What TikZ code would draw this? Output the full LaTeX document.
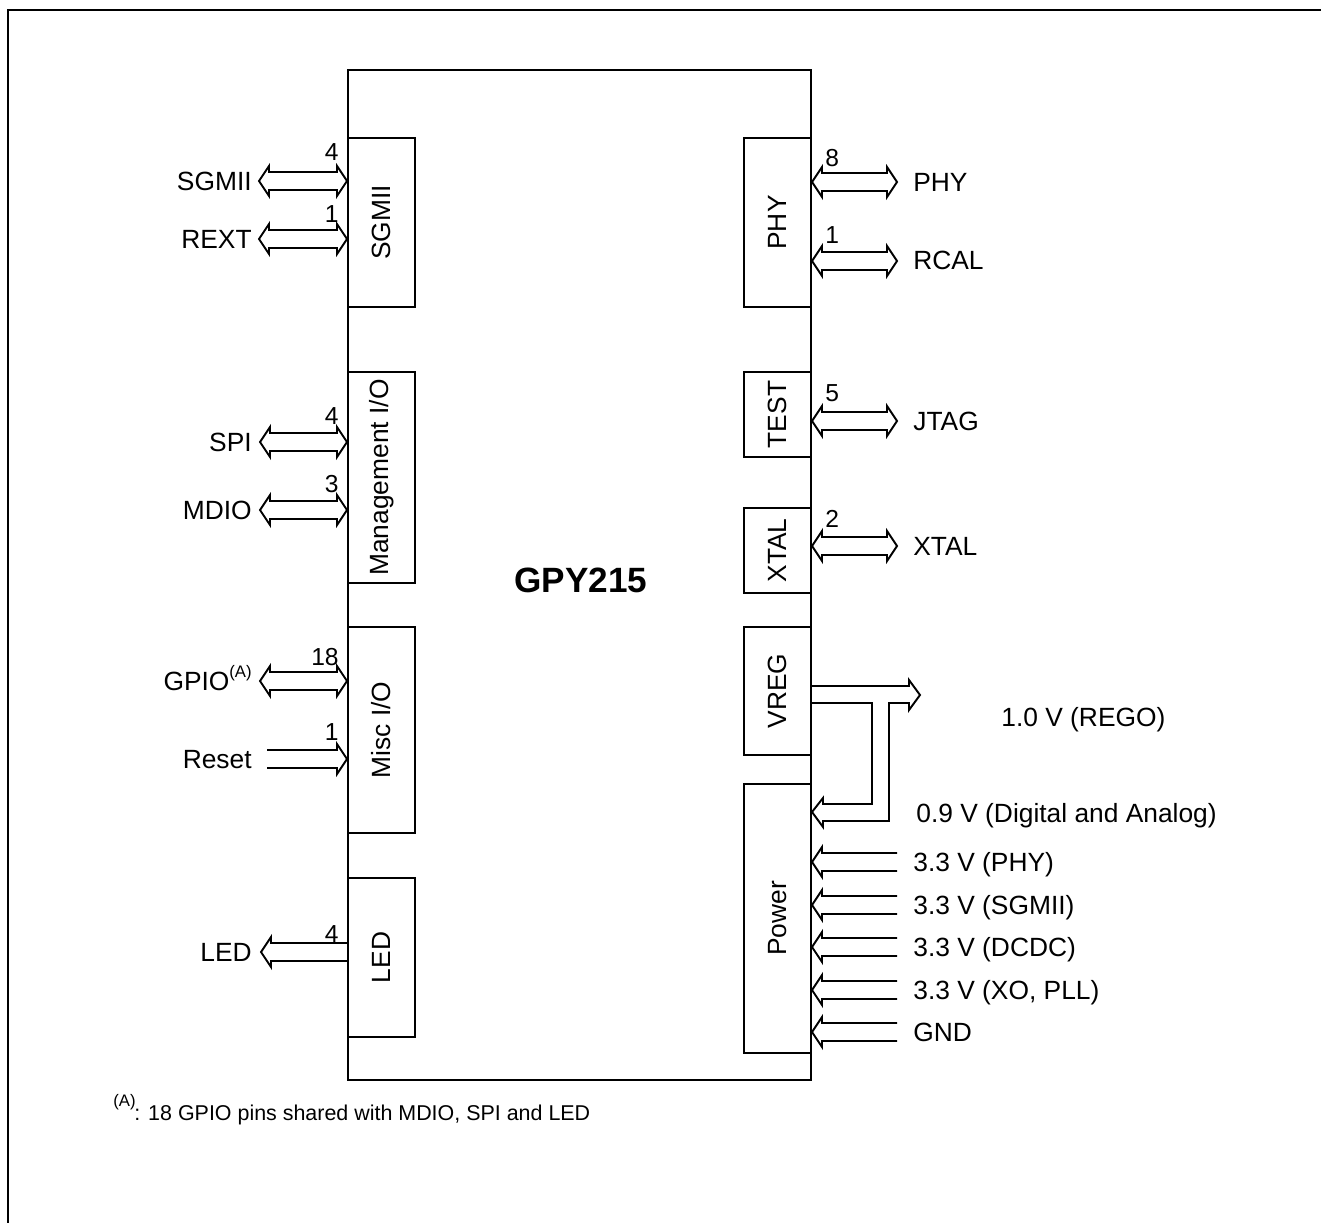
\documentclass[tikz,border=0pt]{standalone}
\usepackage{fontspec}
\setmainfont{Liberation Sans}
\usetikzlibrary{fit}
\newcommand{\ArrBi}[3]{\draw[arr] (#1,#3) -- ({#1+10},{#3-15}) -- ({#1+10},{#3-9}) -- ({#2-10},{#3-9}) -- ({#2-10},{#3-15}) -- (#2,#3) -- ({#2-10},{#3+15}) -- ({#2-10},{#3+9}) -- ({#1+10},{#3+9}) -- ({#1+10},{#3+15}) -- cycle;}
\newcommand{\ArrR}[3]{\draw[arr] (#1,{#3-9}) -- ({#2-10},{#3-9}) -- ({#2-10},{#3-15}) -- (#2,#3) -- ({#2-10},{#3+15}) -- ({#2-10},{#3+9}) -- (#1,{#3+9});}
\newcommand{\ArrL}[3]{\draw[arr] (#2,{#3-9}) -- ({#1+10},{#3-9}) -- ({#1+10},{#3-15}) -- (#1,#3) -- ({#1+10},{#3+15}) -- ({#1+10},{#3+9}) -- (#2,{#3+9});}
\begin{document}
\begin{tikzpicture}[x=0.02cm,y=-0.02cm,
  blk/.style={draw, line width=1.1pt, inner sep=0pt},
  lbl/.style={font=\fontsize{15}{18}\selectfont, inner sep=0pt},
  num/.style={font=\fontsize{14}{17}\selectfont, inner sep=0pt},
  arr/.style={draw, line width=1.1pt, line join=miter, miter limit=10}]
\useasboundingbox (0,0) rectangle (1321,1223);
\draw[line width=1.1pt] (8,1223) -- (8,10) -- (1321,10);
% chip
\node[blk, fit={(348,70) (811,1080)}] (chip) {};
\node[font=\fontsize{20}{24}\selectfont\bfseries, inner sep=0pt] (chipname) at (581,580) {GPY215};
% left blocks
\node[blk, fit={(348,138) (415,307)}] (bSgmii) {};
\node[lbl, rotate=90] at (bSgmii) {SGMII};
\node[blk, fit={(348,372) (415,583)}] (bMgmt) {};
\node[lbl, rotate=90] at (bMgmt) {Management I/O};
\node[blk, fit={(348,627) (415,833)}] (bMisc) {};
\node[lbl, rotate=90] at (bMisc) {Misc I/O};
\node[blk, fit={(348,878) (415,1037)}] (bLed) {};
\node[lbl, rotate=90] at (bLed) {LED};
% right blocks
\node[blk, fit={(744,138) (811,307)}] (bPhy) {};
\node[lbl, rotate=90] at (bPhy) {PHY};
\node[blk, fit={(744,372) (811,457)}] (bTest) {};
\node[lbl, rotate=90] at (bTest) {TEST};
\node[blk, fit={(744,508) (811,593)}] (bXtal) {};
\node[lbl, rotate=90] at (bXtal) {XTAL};
\node[blk, fit={(744,627) (811,755)}] (bVreg) {};
\node[lbl, rotate=90] at (bVreg) {VREG};
\node[blk, fit={(744,784) (811,1053)}] (bPower) {};
\node[lbl, rotate=90] at (bPower) {Power};
% left arrows
\ArrBi{259}{347}{181}
\ArrBi{259}{347}{239}
\ArrBi{260}{347}{442}
\ArrBi{260}{347}{510}
\ArrBi{260}{347}{681}
\ArrR{267}{347}{759}
\ArrL{261}{348}{952}
% left labels
\node[lbl, anchor=base east] (lSgmii) at (252,190.5) {SGMII};
\node[lbl, anchor=base east] (lRext) at (252,248.5) {REXT};
\node[lbl, anchor=base east] (lSpi) at (252,451.5) {SPI};
\node[lbl, anchor=base east] (lMdio) at (252,519.5) {MDIO};
\node[lbl, anchor=base east] (lGpio) at (252,690.5) {GPIO\raisebox{7.5pt}{\fontsize{9.5}{11}\selectfont(A)}};
\node[lbl, anchor=base east] (lReset) at (252,768.5) {Reset};
\node[lbl, anchor=base east] (lLed) at (252,961.5) {LED};
% left numbers
\node[num, anchor=base east] (nSgmii) at (339,161) {4};
\node[num, anchor=base east] (nRext) at (339,222) {1};
\node[num, anchor=base east] (nSpi) at (339,424) {4};
\node[num, anchor=base east] (nMdio) at (339,492) {3};
\node[num, anchor=base east] (nGpio) at (339,665) {18};
\node[num, anchor=base east] (nReset) at (339,740) {1};
\node[num, anchor=base east] (nLed) at (339,942) {4};
% right arrows
\ArrBi{812}{897}{182}
\ArrBi{812}{897}{261}
\ArrBi{812}{897}{421}
\ArrBi{812}{897}{546}
\ArrL{812}{897}{862}
\ArrL{812}{897}{905}
\ArrL{812}{897}{947}
\ArrL{812}{897}{990}
\ArrL{812}{897}{1032}
% VREG branched arrow
\draw[arr] (811,686) -- (909,686) -- (909,680) -- (920,695) -- (909,710) -- (909,703)
  -- (889,703) -- (889,821) -- (823,821) -- (823,827) -- (812,812) -- (823,798)
  -- (823,804) -- (872,804) -- (872,703) -- (811,703);
% right numbers
\node[num, anchor=base west] (nPhy) at (825,167) {8};
\node[num, anchor=base west] (nRcal) at (825,243) {1};
\node[num, anchor=base west] (nJtag) at (825,401) {5};
\node[num, anchor=base west] (nXtal) at (825,527) {2};
% right labels
\node[lbl, anchor=base west] (rPhy) at (913,191.5) {PHY};
\node[lbl, anchor=base west] (rRcal) at (913,269.5) {RCAL};
\node[lbl, anchor=base west] (rJtag) at (913,430.5) {JTAG};
\node[lbl, anchor=base west] (rXtal) at (913,555.5) {XTAL};
\node[lbl, anchor=base west] (rRego) at (1001,726.5) {1.0 V (REGO)};
\node[lbl, anchor=base west] (rDig) at (916,822.5) {0.9 V (Digital and Analog)};
\node[lbl, anchor=base west] (rP1) at (913,871.5) {3.3 V (PHY)};
\node[lbl, anchor=base west] (rP2) at (913,914.5) {3.3 V (SGMII)};
\node[lbl, anchor=base west] (rP3) at (913,956.5) {3.3 V (DCDC)};
\node[lbl, anchor=base west] (rP4) at (913,999.5) {3.3 V (XO, PLL)};
\node[lbl, anchor=base west] (rGnd) at (913,1041.5) {GND};
% footnote
\node[inner sep=0pt, anchor=base west, font=\fontsize{9.5}{11}\selectfont] (fnA) at (113,1106) {(A)};
\node[inner sep=0pt, anchor=base west, font=\fontsize{12.2}{14}\selectfont] (fnT) at (134,1120) {: 18 GPIO pins shared with MDIO, SPI and LED};
\end{tikzpicture}
\end{document}
